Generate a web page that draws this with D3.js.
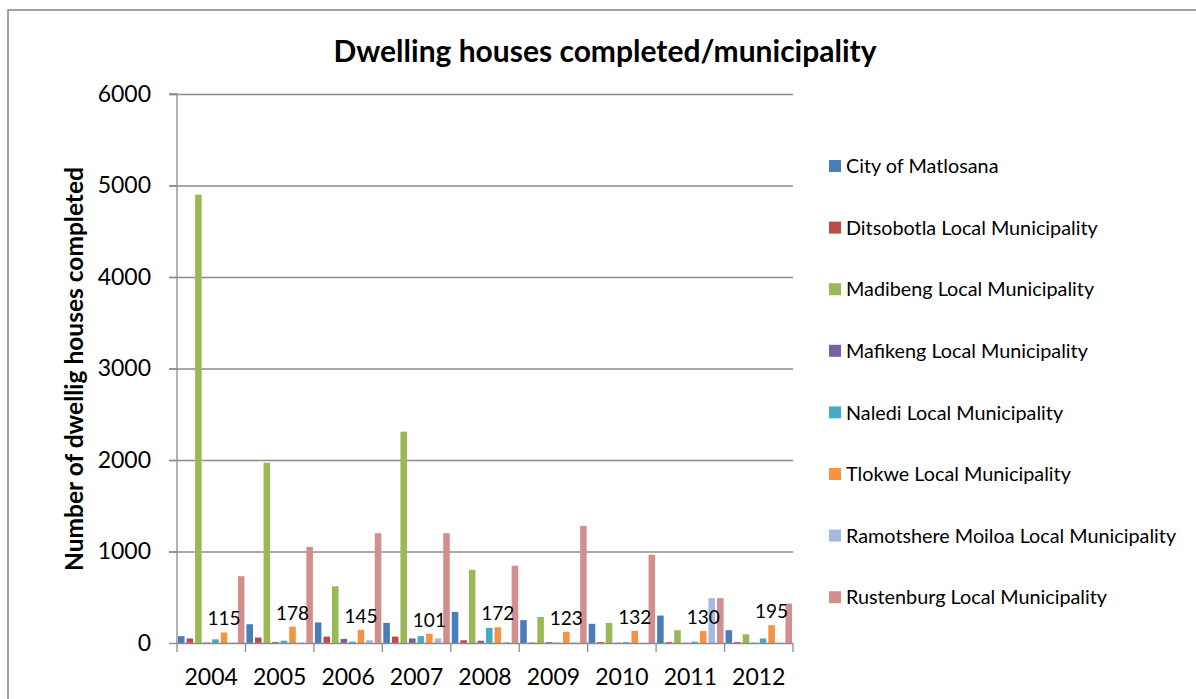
<!DOCTYPE html>
<html>
<head>
<meta charset="utf-8">
<script src="https://cdn.jsdelivr.net/npm/d3@7"></script>
<style>
  body { margin: 0; background: #fff; }
  svg { display: block; font-family: Lato, "Open Sans", sans-serif; }
</style>
</head>
<body>
<div id="chart"></div>
<script>
// Years on the x axis
const years = ["2004", "2005", "2006", "2007", "2008", "2009", "2010", "2011", "2012"];

// One array per municipality
const municipalities = [
    "City of Matlosana", "Ditsobotla Local Municipality", "Madibeng Local Municipality",
    "Mafikeng Local Municipality", "Naledi Local Municipality", "Tlokwe Local Municipality",
    "Ramotshere Moiloa Local Municipality", "Rustenburg Local Municipality"
];
const matlosana  = [75, 205, 225, 220, 340, 250, 210, 300, 140];
const ditsobotla = [50, 60, 70, 70, 30, 5, 10, 10, 10];
const madibeng   = [4900, 1970, 620, 2310, 800, 285, 220, 140, 95];
const mafikeng   = [5, 10, 45, 50, 25, 10, 3, 3, 3];
const naledi     = [40, 25, 15, 75, 165, 5, 10, 15, 50];
const tlokwe     = [115, 178, 145, 101, 172, 123, 132, 130, 195];
const ramotshere = [5, 5, 30, 50, 10, 5, 3, 490, 3];
const rustenburg = [730, 1050, 1200, 1200, 845, 1280, 965, 490, 430];

const yTicks = [0, 1000, 2000, 3000, 4000, 5000, 6000];

const series = [matlosana, ditsobotla, madibeng, mafikeng, naledi, tlokwe, ramotshere, rustenburg];
const colors = ["#4A7EBB", "#BE4B48", "#98B954", "#7D60A0", "#46AAC5", "#F69240", "#A7B9E3", "#D38F8E"];

const width = 1196, height = 699;
const margin = { left: 177, right: 1196 - 793, top: 94, bottom: 699 - 643 };

const svg = d3.select("#chart").append("svg")
    .attr("width", width)
    .attr("height", height);

// outer chart border (runs off right/bottom)
svg.append("rect")
    .attr("x", 8).attr("y", 10)
    .attr("width", 1300).attr("height", 800)
    .attr("fill", "none")
    .attr("stroke", "#878787")
    .attr("stroke-width", 1.5);

const x0 = d3.scaleBand()
    .domain(years)
    .range([margin.left, width - margin.right])
    .padding(0);

const x1 = d3.scaleBand()
    .domain(d3.range(series.length))
    .range([0, x0.bandwidth()])
    .padding(0);

const y = d3.scaleLinear()
    .domain([0, 6000])
    .range([height - margin.bottom, margin.top]);

// gridlines
svg.append("g")
    .selectAll("line")
    .data(yTicks.slice(1))
    .join("line")
    .attr("x1", margin.left - 8)
    .attr("x2", width - margin.right)
    .attr("y1", d => y(d) + 0.5)
    .attr("y2", d => y(d) + 0.5)
    .attr("stroke", "#8c8c8c")
    .attr("stroke-width", 1.3);

// y axis
const yAxis = svg.append("g")
    .attr("transform", `translate(${margin.left},0)`)
    .call(d3.axisLeft(y).tickValues(yTicks).tickFormat(d3.format("d")).tickSize(8).tickPadding(18));
yAxis.selectAll("path, line").attr("stroke", "#8c8c8c").attr("stroke-width", 1.3);
yAxis.select(".domain").attr("d", `M-8,${y(6000)}H0V${y(0)}`);
yAxis.selectAll("text")
    .attr("font-size", 23)
    .attr("font-family", "Lato, sans-serif")
    .attr("fill", "#000");

// bars
const groups = svg.append("g")
    .selectAll("g")
    .data(years)
    .join("g")
    .attr("transform", d => `translate(${x0(d)},0)`);

groups.selectAll("rect")
    .data((yr, i) => series.map((s, k) => ({ k, v: s[i] })))
    .join("rect")
    .attr("x", d => x1(d.k) + 1)
    .attr("width", x1.bandwidth() - 2)
    .attr("y", d => y(d.v))
    .attr("height", d => y(0) - y(d.v))
    .attr("fill", d => colors[d.k]);

// x axis
const xAxis = svg.append("g")
    .attr("transform", `translate(0,${y(0)})`)
    .call(d3.axisBottom(x0).tickSize(0).tickPadding(26));
xAxis.select(".domain").attr("stroke", "#8c8c8c").attr("stroke-width", 1.3)
    .attr("d", `M${margin.left},0.5H${width - margin.right}`);
xAxis.selectAll("text")
    .attr("font-size", 23)
    .attr("font-family", "Lato, sans-serif")
    .attr("fill", "#000");
svg.append("g")
    .selectAll("line")
    .data(years.concat(["end"]))
    .join("line")
    .attr("x1", (d, i) => margin.left + i * x0.step())
    .attr("x2", (d, i) => margin.left + i * x0.step())
    .attr("y1", y(0))
    .attr("y2", y(0) + 9)
    .attr("stroke", "#8c8c8c")
    .attr("stroke-width", 1.3);

// data labels for Tlokwe
svg.append("g")
    .selectAll("text")
    .data(years)
    .join("text")
    .attr("x", (d, i) => x0(d) + x1(5) + x1.bandwidth() / 2)
    .attr("y", (d, i) => y(tlokwe[i]) - 7)
    .attr("text-anchor", "middle")
    .attr("font-size", 19)
    .attr("fill", "#000")
    .text((d, i) => tlokwe[i]);

// title
svg.append("text")
    .attr("x", 605)
    .attr("y", 62)
    .attr("text-anchor", "middle")
    .attr("font-size", 30)
    .attr("font-weight", "bold")
    .text("Dwelling houses completed/municipality");

// y axis title
svg.append("text")
    .attr("transform", "translate(83,369) rotate(-90)")
    .attr("text-anchor", "middle")
    .attr("font-size", 24.5)
    .attr("font-weight", "bold")
    .text("Number of dwellig houses completed");

// legend
const legend = svg.append("g")
    .selectAll("g")
    .data(municipalities)
    .join("g")
    .attr("transform", (d, i) => `translate(829,${166 + i * 61.6})`);
legend.append("rect")
    .attr("x", 0).attr("y", -6)
    .attr("width", 12).attr("height", 12)
    .attr("fill", (d, i) => colors[i]);
legend.append("text")
    .attr("x", 17)
    .attr("dy", "0.36em")
    .attr("font-size", 19.8)
    .attr("fill", "#000")
    .text(d => d);
</script>
</body>
</html>
